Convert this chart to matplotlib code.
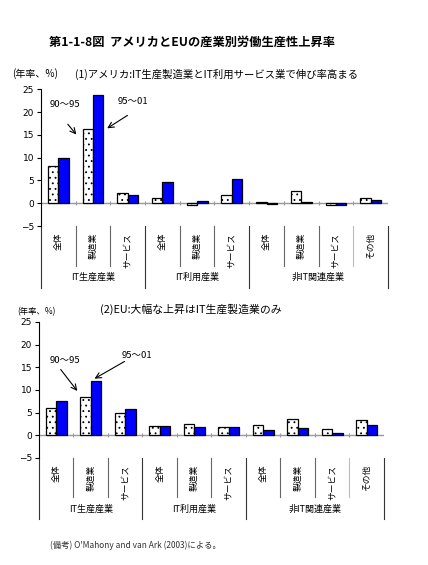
import matplotlib
matplotlib.use('Agg')
import matplotlib.pyplot as plt
import matplotlib.transforms as mtransforms
import numpy as np

plt.rcParams['font.family'] = ['Noto Sans CJK JP', 'DejaVu Sans']
plt.rcParams['hatch.linewidth'] = 0.6

# データ
categories = ['全体', '製造業', 'サービス', '全体', '製造業', 'サービス',
              '全体', '製造業', 'サービス', 'その他']
groups = ['IT生産産業', 'IT利用産業', '非IT関連産業']
group_centers = [1.0, 4.0, 7.5]
yticks = [-5, 0, 5, 10, 15, 20, 25]

us_90_95 = [8.1, 16.2, 2.3, 1.2, -0.5, 1.7, 0.3, 2.7, -0.5, 1.2]
us_95_01 = [10.0, 23.8, 1.8, 4.7, 0.4, 5.3, -0.2, 0.3, -0.3, 0.7]
eu_90_95 = [6.1, 8.5, 4.9, 2.1, 2.5, 1.9, 2.2, 3.7, 1.3, 3.3]
eu_95_01 = [7.6, 12.0, 5.9, 2.0, 1.9, 1.9, 1.1, 1.7, 0.6, 2.2]

fig = plt.figure(figsize=(4.28, 5.65), dpi=100)

fig.text(0.449, 0.925, '第1-1-8図  アメリカとEUの産業別労働生産性上昇率',
         ha='center', va='center', fontsize=8.8, fontweight='bold')


def draw_panel(ax, v1, v2, arrows):
    x = np.arange(len(categories))
    w = 0.3
    ax.bar(x - w / 2, v1, w, color='white', edgecolor='black', linewidth=0.9,
           hatch='...', zorder=3)
    ax.bar(x + w / 2, v2, w, color='#0000ff', edgecolor='black', linewidth=0.9,
           zorder=3)
    ax.set_xlim(-0.5, 9.5)
    ax.set_ylim(-5, 25)
    ax.set_yticks(yticks)
    ax.set_yticklabels([str(t).replace('-', '\u2212') for t in yticks],
                       fontsize=6.5, family='DejaVu Sans')
    ax.tick_params(axis='y', length=3, width=0.8, pad=2)
    ax.set_xticks([])
    for s in ['top', 'right', 'bottom']:
        ax.spines[s].set_visible(False)
    ax.spines['left'].set_linewidth(0.8)
    ax.axhline(0, color='#999999', lw=1.0, zorder=2)
    bounds = np.arange(0.5, 9.5, 1.0)
    ax.plot(bounds, np.zeros_like(bounds), ls='none', marker='|',
            color='#999999', ms=3, mew=0.8, zorder=2)

    tr = mtransforms.blended_transform_factory(ax.transData, ax.transAxes)
    long_b = [-0.5, 2.5, 5.5, 9.5]
    short_b = [0.5, 1.5, 3.5, 4.5, 6.5, 7.5]
    for b in long_b:
        ax.plot([b, b], [0, -0.45], color='#333333', lw=0.8,
                transform=tr, clip_on=False)
    for b in short_b:
        ax.plot([b, b], [0, -0.29], color='#666666', lw=0.8,
                transform=tr, clip_on=False)
    ax.plot([8.5, 8.5], [0, -0.29], color='#bbbbbb', lw=0.8,
            transform=tr, clip_on=False)
    for i, c in enumerate(categories):
        ax.text(i, -0.05, c, rotation=90, ha='center', va='top',
                fontsize=6.3, transform=tr)
    for g, gc in zip(groups, group_centers):
        ax.text(gc, -0.375, g, ha='center', va='center', fontsize=6.5,
                transform=tr)

    for txt, tpos, start, end in arrows:
        ax.text(tpos[0], tpos[1], txt, ha='center', va='center', fontsize=6.8)
        ax.annotate('', xy=end, xytext=start,
                    arrowprops=dict(arrowstyle='->', color='black', lw=0.8,
                                    mutation_scale=10))


ax1 = fig.add_axes([0.0958, 0.600, 0.8107, 0.242])
draw_panel(ax1, us_90_95, us_95_01,
           [('90～95', (0.19, 21.6), (0.22, 17.8), (0.57, 14.6)),
            ('95～01', (2.15, 22.4), (2.06, 19.6), (1.34, 16.1))])
fig.text(0.028, 0.869, '(年率、%)', ha='left', va='center', fontsize=7.2)
fig.text(0.175, 0.869, '(1)アメリカ:IT生産製造業とIT利用サービス業で伸び率高まる',
         ha='left', va='center', fontsize=7.45)

ax2 = fig.add_axes([0.0911, 0.1894, 0.806, 0.2407])
draw_panel(ax2, eu_90_95, eu_95_01,
           [('90～95', (0.25, 16.4), (0.08, 15.0), (0.66, 9.3)),
            ('95～01', (2.34, 17.7), (2.05, 16.6), (1.04, 12.2))])
fig.text(0.04, 0.448, '(年率、%)', ha='left', va='center', fontsize=6)
fig.text(0.234, 0.453, '(2)EU:大幅な上昇はIT生産製造業のみ',
         ha='left', va='center', fontsize=7.8)

fig.text(0.117, 0.035, '(備考) O\'Mahony and van Ark (2003)による。',
         ha='left', va='center', fontsize=6, color='#333333')

fig.savefig('out.png', dpi=100)
